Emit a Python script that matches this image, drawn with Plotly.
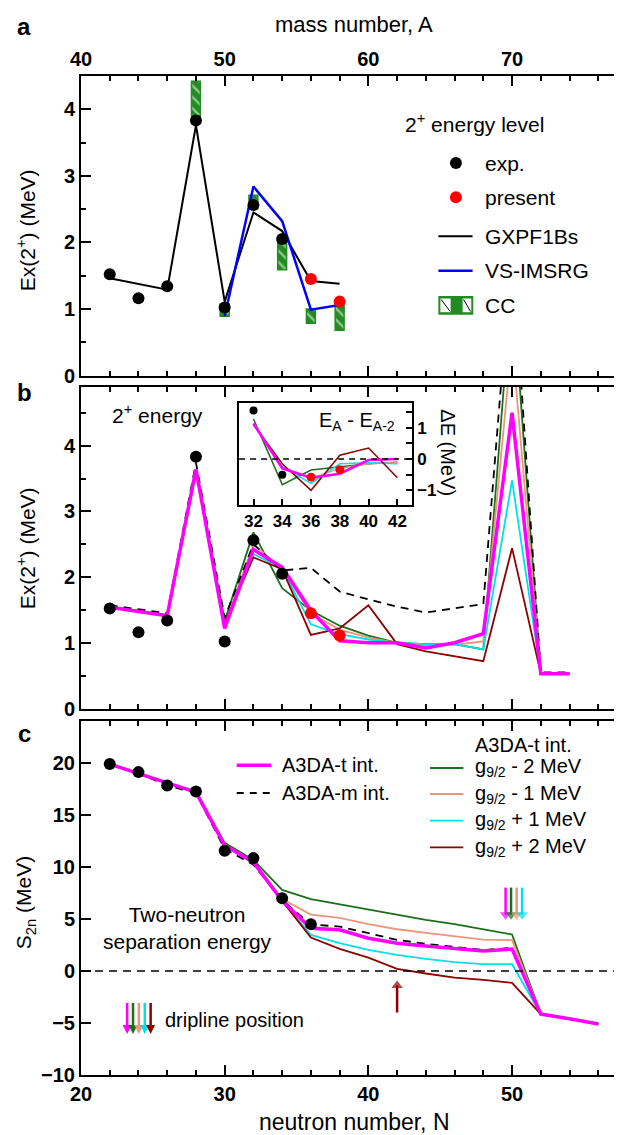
import plotly.graph_objects as go

FONT = "Liberation Sans, Arial, Helvetica, sans-serif"

# ---------------- data ----------------
Z = 20  # calcium
# experimental 2+ energies (MeV)
N_exp = [22, 24, 26, 28, 30, 32, 34]
E2_exp = [1.52, 1.16, 1.34, 3.83, 1.02, 2.56, 2.05]
N_present = [36, 38]
E2_present = [1.45, 1.11]

# panel a (mass number A)
A_gx = [42, 44, 46, 48, 50, 52, 54, 56, 58]
E2_gx = [1.46, 1.37, 1.29, 3.76, 1.11, 2.45, 2.17, 1.42, 1.38]
A_vs = [50, 52, 54, 56, 58]
E2_vs = [0.89, 2.84, 2.32, 0.99, 1.06]
A_cc = [48, 50, 52, 54, 56, 58]
E2_cc_low = [3.90, 0.89, 2.51, 1.59, 0.785, 0.68]
E2_cc_high = [4.42, 1.07, 2.71, 2.02, 1.00, 1.06]

# panel b: 2+ energies from A3DA calculations
N_b = [22, 24, 26, 28, 30, 32, 34, 36, 38, 40, 42, 44, 46, 48, 50, 52, 54]
E2_t = [1.54, 1.47, 1.41, 3.64, 1.22, 2.42, 2.15, 1.49, 1.03, 1.00, 1.00, 0.92, 1.00, 1.14, 4.50, 0.53, 0.53]
E2_m = [1.57, 1.51, 1.45, 3.74, 1.38, 2.50, 2.10, 2.14, 1.78, 1.66, 1.55, 1.46, 1.53, 1.59, 7.00, 0.55, 0.55]
E2_gm2 = [1.55, 1.49, 1.42, 3.64, 1.33, 2.68, 1.83, 1.49, 1.26, 1.11, 1.00, 0.98, 0.98, 0.90, 6.50, 0.53, 0.53]
E2_gm1 = [1.55, 1.48, 1.42, 3.64, 1.27, 2.50, 2.12, 1.45, 1.20, 1.08, 1.00, 0.96, 0.97, 1.02, 5.60, 0.53, 0.53]
E2_gp1 = [1.54, 1.47, 1.41, 3.64, 1.25, 2.35, 2.13, 1.28, 1.13, 1.05, 1.00, 0.98, 0.98, 0.90, 3.47, 0.53, 0.53]
E2_gp2 = [1.54, 1.47, 1.41, 3.60, 1.30, 2.30, 2.12, 1.12, 1.22, 1.57, 0.98, 0.87, 0.80, 0.72, 2.44, 0.53, 0.53]

# inset: E_A - E_A-2
N_in = [32, 34, 36, 38, 40, 42]
dE_t = [1.13, -0.30, -0.60, -0.47, -0.03, 0.00]
dE_gm2 = [1.28, -0.82, -0.35, -0.25, -0.15, -0.10]
dE_gm1 = [1.15, -0.25, -0.62, -0.30, -0.15, -0.10]
dE_gp1 = [1.10, -0.25, -0.78, -0.15, -0.12, -0.15]
dE_gp2 = [1.10, -0.15, -1.00, 0.12, 0.35, -0.60]
N_in_exp = [32, 34]
dE_exp = [1.55, -0.50]
N_in_present = [36, 38]
dE_present = [-0.58, -0.34]

# panel c: two-neutron separation energies (MeV)
N_c = [22, 24, 26, 28, 30, 32, 34, 36, 38, 40, 42, 44, 46, 48, 50, 52, 54, 56]
S2n_exp_N = [22, 24, 26, 28, 30, 32, 34, 36]
S2n_exp = [19.86, 19.09, 17.80, 17.23, 11.53, 10.83, 6.98, 4.49]
S2n_t = [19.86, 18.93, 18.06, 17.17, 12.05, 10.44, 6.72, 4.10, 3.94, 3.14, 2.66, 2.40, 2.18, 1.90, 2.10, -4.15, -4.60, -5.10]
S2n_m = [19.90, 19.00, 17.80, 17.10, 11.70, 10.20, 6.80, 4.45, 4.26, 3.62, 2.98, 2.60, 2.30, 2.00, 2.20, -4.15, -4.60, -5.10]
S2n_gm2 = [19.86, 18.93, 18.06, 17.20, 12.30, 10.66, 7.78, 6.90, 6.40, 5.90, 5.40, 4.90, 4.50, 4.00, 3.50, -4.15, -4.60, -5.10]
S2n_gm1 = [19.86, 18.93, 18.06, 17.20, 12.10, 10.50, 6.90, 5.40, 5.10, 4.50, 4.00, 3.65, 3.30, 3.00, 2.95, -4.15, -4.60, -5.10]
S2n_gp1 = [19.86, 18.93, 18.06, 17.17, 12.05, 10.44, 6.72, 3.46, 2.66, 2.02, 1.54, 1.15, 0.84, 0.64, 0.64, -4.15, -4.60, -5.10]
S2n_gp2 = [19.86, 18.93, 18.06, 17.17, 12.05, 10.44, 6.72, 3.20, 2.11, 1.28, 0.19, -0.25, -0.64, -0.86, -1.15, -4.15, -4.60, -5.10]

# dripline positions (neutron number)
drip_names = ["A3DA-t", "g-2", "g-1", "g+1", "g+2"]
drip_N = [50, 50, 50, 50, 42]

# ---------------- styles ----------------
C_T = "#ff00ff"
C_GM2 = "#1c6e1c"
C_GM1 = "#e9967a"
C_GP1 = "#00e0e8"
C_GP2 = "#8b0000"
C_CC = "#228b22"
drip_colors = [C_T, C_GM2, C_GM1, C_GP1, C_GP2]
DASH = "8px,6px"

W, H = 622, 1135
L, R, T, B = 73, 1, 68, 68
PW = W - L - R
PH = H - T - B


def px(x):
    return (x - L) / PW


def py(y):
    return (H - B - y) / PH


fig = go.Figure()


def line(x, y, color, width, xa, ya, dash=None):
    fig.add_trace(go.Scatter(x=x, y=y, mode="lines", xaxis=xa, yaxis=ya,
                             line=dict(color=color, width=width, dash=dash),
                             showlegend=False, hoverinfo="skip"))


def dots(x, y, color, size, xa, ya):
    fig.add_trace(go.Scatter(x=x, y=y, mode="markers", xaxis=xa, yaxis=ya,
                             marker=dict(color=color, size=size),
                             showlegend=False, hoverinfo="skip"))


# panel a
fig.add_trace(go.Bar(x=A_cc, base=E2_cc_low,
                     y=[h - l for h, l in zip(E2_cc_high, E2_cc_low)],
                     width=0.62, xaxis="x", yaxis="y", showlegend=False,
                     marker=dict(color=C_CC, line=dict(color=C_CC, width=1.5),
                                 pattern=dict(shape="\\", fgcolor="white", bgcolor=C_CC,
                                              size=8, solidity=0.3)),
                     hoverinfo="skip"))
line(A_gx, E2_gx, "black", 2, "x", "y")
line(A_vs, E2_vs, "#0000ff", 2.5, "x", "y")
dots([n + Z for n in N_exp], E2_exp, "black", 12, "x", "y")
dots([n + Z for n in N_present], E2_present, "#ff0000", 12, "x", "y")

# panel b
for ys, c in [(E2_gm2, C_GM2), (E2_gm1, C_GM1), (E2_gp1, C_GP1), (E2_gp2, C_GP2)]:
    line(N_b, ys, c, 1.8, "x2", "y2")
line(N_b, E2_m, "black", 1.8, "x2", "y2", DASH)
line(N_b, E2_t, C_T, 3.5, "x2", "y2")
dots(N_exp, E2_exp, "black", 12, "x2", "y2")
dots(N_present, E2_present, "#ff0000", 12, "x2", "y2")

# inset
for ys, c in [(dE_gm2, C_GM2), (dE_gm1, C_GM1), (dE_gp1, C_GP1), (dE_gp2, C_GP2)]:
    line(N_in, ys, c, 1.5, "x4", "y4")
line(N_in, dE_t, C_T, 2.6, "x4", "y4")
dots(N_in_exp, dE_exp, "black", 8, "x4", "y4")
dots(N_in_present, dE_present, "#ff0000", 9, "x4", "y4")

# panel c
for ys, c in [(S2n_gm2, C_GM2), (S2n_gm1, C_GM1), (S2n_gp1, C_GP1), (S2n_gp2, C_GP2)]:
    line(N_c, ys, c, 1.8, "x3", "y3")
line(N_c, S2n_m, "black", 1.8, "x3", "y3", DASH)
line(N_c, S2n_t, C_T, 3.5, "x3", "y3")
dots(S2n_exp_N, S2n_exp, "black", 12, "x3", "y3")

# dripline arrows (drawn as traces at the dripline neutron number)
spread = [-0.45, -0.07, 0.32, 0.7]
k50 = 0
for n, c in zip(drip_N, drip_colors):
    if n == 50:
        xn = n + spread[k50]
        k50 += 1
        ys, sym = [8.0, 5.4], "triangle-down"
    else:
        xn = n
        ys, sym = [-4.0, -1.4], "triangle-up"
    fig.add_trace(go.Scatter(x=[xn, xn], y=ys, mode="lines+markers", xaxis="x3", yaxis="y3",
                             line=dict(color=c, width=2.5),
                             marker=dict(symbol=sym, size=[0.1, 10], color=c, line=dict(width=0)),
                             showlegend=False, hoverinfo="skip"))

# ---------------- axes ----------------
tickfont = dict(family=FONT, size=20, color="black", weight="bold")
minor_style = dict(ticks="inside", ticklen=5, tickwidth=1.5, tickcolor="black")
common = dict(showline=True, linecolor="black", linewidth=2, mirror="allticks",
              ticks="inside", ticklen=10, tickwidth=1.5, tickcolor="black",
              showgrid=False, zeroline=False, tickfont=tickfont, fixedrange=True)

dom_a = [py(367.5), 1.0]
dom_b = [py(700.5), py(378.5)]
dom_c = [0.0, py(713)]

fig.update_layout(
    xaxis=dict(common, range=[40, 78], side="top", anchor="y", domain=[0, 1],
               tick0=40, dtick=10, minor=dict(minor_style, dtick=2)),
    yaxis=dict(common, range=[0, 4.5], domain=dom_a, anchor="x",
               tick0=0, dtick=1, minor=dict(minor_style, dtick=0.5)),
    xaxis2=dict(common, range=[20, 58], anchor="y2", domain=[0, 1], showticklabels=False,
                tick0=20, dtick=10, minor=dict(minor_style, dtick=2)),
    yaxis2=dict(common, range=[0, 4.9], domain=dom_b, anchor="x2",
                tick0=0, dtick=1, minor=dict(minor_style, dtick=0.5)),
    xaxis3=dict(common, range=[20, 58], anchor="y3", domain=[0, 1],
                tick0=20, dtick=10, minor=dict(minor_style, dtick=2)),
    yaxis3=dict(common, range=[-10, 24], domain=dom_c, anchor="x3", tick0=0, dtick=5),
    xaxis4=dict(showline=True, linecolor="black", linewidth=2, mirror=True,
                ticks="inside", ticklen=6, tickwidth=1.5, tickcolor="black",
                showgrid=False, zeroline=False, range=[31, 43],
                tick0=32, dtick=2,
                tickfont=dict(family=FONT, size=17, color="black", weight="bold"),
                domain=[px(231.7), px(405)], anchor="y4", fixedrange=True),
    yaxis4=dict(showline=True, linecolor="black", linewidth=2, mirror=True, side="right",
                ticks="inside", ticklen=6, tickwidth=1.5, tickcolor="black",
                showgrid=False, zeroline=False, range=[-1.46, 1.79],
                tick0=0, dtick=1,
                minor=dict(ticks="inside", ticklen=6, tickwidth=1.5, tickcolor="black", dtick=0.5),
                tickfont=dict(family=FONT, size=17, color="black", weight="bold"),
                domain=[py(496.7), py(395)], anchor="x4", fixedrange=True),
    width=W, height=H,
    margin=dict(l=L, r=R, t=T, b=B, pad=0),
    paper_bgcolor="white", plot_bgcolor="rgba(0,0,0,0)",
    barmode="overlay",
    font=dict(family=FONT, size=20, color="black"),
    showlegend=False,
)

shapes = []
# zero reference lines
shapes.append(dict(type="line", xref="x3 domain", yref="y3", x0=0, x1=1, y0=0, y1=0,
                   line=dict(color="black", width=1.5, dash=DASH)))
shapes.append(dict(type="line", xref="x4 domain", yref="y4", x0=0, x1=1, y0=0, y1=0,
                   line=dict(color="black", width=1.5, dash="6px,5px")))

annos = []


def text(x, y, s, size=21, xanchor="left", angle=0, bold=False):
    annos.append(dict(x=x, y=y, xref="paper", yref="paper", text=s, showarrow=False,
                      xanchor=xanchor, yanchor="middle", textangle=angle,
                      font=dict(family=FONT, size=size, color="black",
                                weight="bold" if bold else "normal")))


def circle(cx, cy, r, color):
    shapes.append(dict(type="circle", xref="paper", yref="paper",
                       x0=px(cx - r), x1=px(cx + r), y0=py(cy + r), y1=py(cy - r),
                       fillcolor=color, line=dict(width=0)))


def seg(x0, y0, x1, y1, color, width, dash=None):
    shapes.append(dict(type="line", xref="paper", yref="paper", x0=px(x0), x1=px(x1),
                       y0=py(y0), y1=py(y1), line=dict(color=color, width=width, dash=dash)))


def hline(x0, x1, y, color, width, dash=None):
    seg(x0, y, x1, y, color, width, dash)


def rect(x0, x1, y0, y1, color):
    shapes.append(dict(type="rect", xref="paper", yref="paper", x0=px(x0), x1=px(x1),
                       y0=py(y1), y1=py(y0), fillcolor=color, line=dict(width=0)))


def down_arrow(x, ytop, ybot, color):
    seg(x, ytop, x, ybot - 8, color, 2.5)
    shapes.append(dict(type="path", xref="paper", yref="paper",
                       path=f"M {px(x - 4.5)} {py(ybot - 9)} L {px(x + 4.5)} {py(ybot - 9)} L {px(x)} {py(ybot)} Z",
                       fillcolor=color, line=dict(width=0)))


# panel a legend
text(px(468), py(115), "2<sup>+</sup> energy level", 21, "center")
circle(449.3, 155, 6, "black")
text(px(476), py(155), "exp.")
circle(449.3, 189.3, 6, "#ff0000")
text(px(476), py(189.3), "present")
hline(431.7, 466, 228.3, "black", 2)
text(px(476), py(228.3), "GXPF1Bs")
hline(431.7, 466, 262.7, "#0000ff", 2.5)
text(px(476), py(262.7), "VS-IMSRG")
rect(431.7, 466.7, 288, 306.7, C_CC)
rect(433.7, 444.0, 290.5, 304.2, "white")
rect(456.0, 464.7, 290.5, 304.2, "white")
seg(434.5, 291.5, 443.5, 303.5, "black", 1)
seg(457, 291.5, 464, 303.5, "black", 1)
text(px(476), py(297.3), "CC")

# panel b texts
text(px(101.7), py(406), "2<sup>+</sup> energy", 21)
text(px(390), py(413), "E<sub>A</sub> - E<sub>A-2</sub>", 20, "right")
text(px(441), py(445), "ΔE (MeV)", 20, "center", 90)

# panel c legends
hline(229.3, 264, 757.3, C_T, 3.5)
text(px(273), py(757.3), "A3DA-t int.", 20)
hline(229.3, 264, 785, "black", 1.8, "7px,6px")
text(px(273), py(785), "A3DA-m int.", 20)
text(px(517.3), py(736.7), "A3DA-t int.", 20, "center")
for yy, c, s in [(760, C_GM2, "g<sub>9/2</sub> - 2 MeV"), (786, C_GM1, "g<sub>9/2</sub> - 1 MeV"),
                 (812.7, C_GP1, "g<sub>9/2</sub> + 1 MeV"), (839.3, C_GP2, "g<sub>9/2</sub> + 2 MeV")]:
    hline(423.3, 456.7, yy, c, 1.8)
    text(px(466), py(yy), s, 20)
text(px(93), py(920), "Two-neutron<br>separation energy", 21)
text(px(155), py(1011.7), "dripline position", 20)
for i, c in enumerate(drip_colors):
    down_arrow(119.3 + 5.9 * i, 995, 1026, c)

# axis titles and panel labels
text(px(18), py(222), "Ex(2<sup>+</sup>) (MeV)", 21, "center", -90)
text(px(18), py(540), "Ex(2<sup>+</sup>) (MeV)", 21, "center", -90)
text(px(17), py(895), "S<sub>2n</sub> (MeV)", 21, "center", -90)
text(0.5, py(16), "mass number, A", 22, "center")
text(0.5, py(1114), "neutron number, N", 23, "center")
text(px(16), py(18), "a", 24, "center", bold=True)
text(px(16), py(384), "b", 24, "center", bold=True)
text(px(16), py(725), "c", 24, "center", bold=True)

fig.update_layout(shapes=shapes, annotations=annos)
fig.write_html("out.html")
